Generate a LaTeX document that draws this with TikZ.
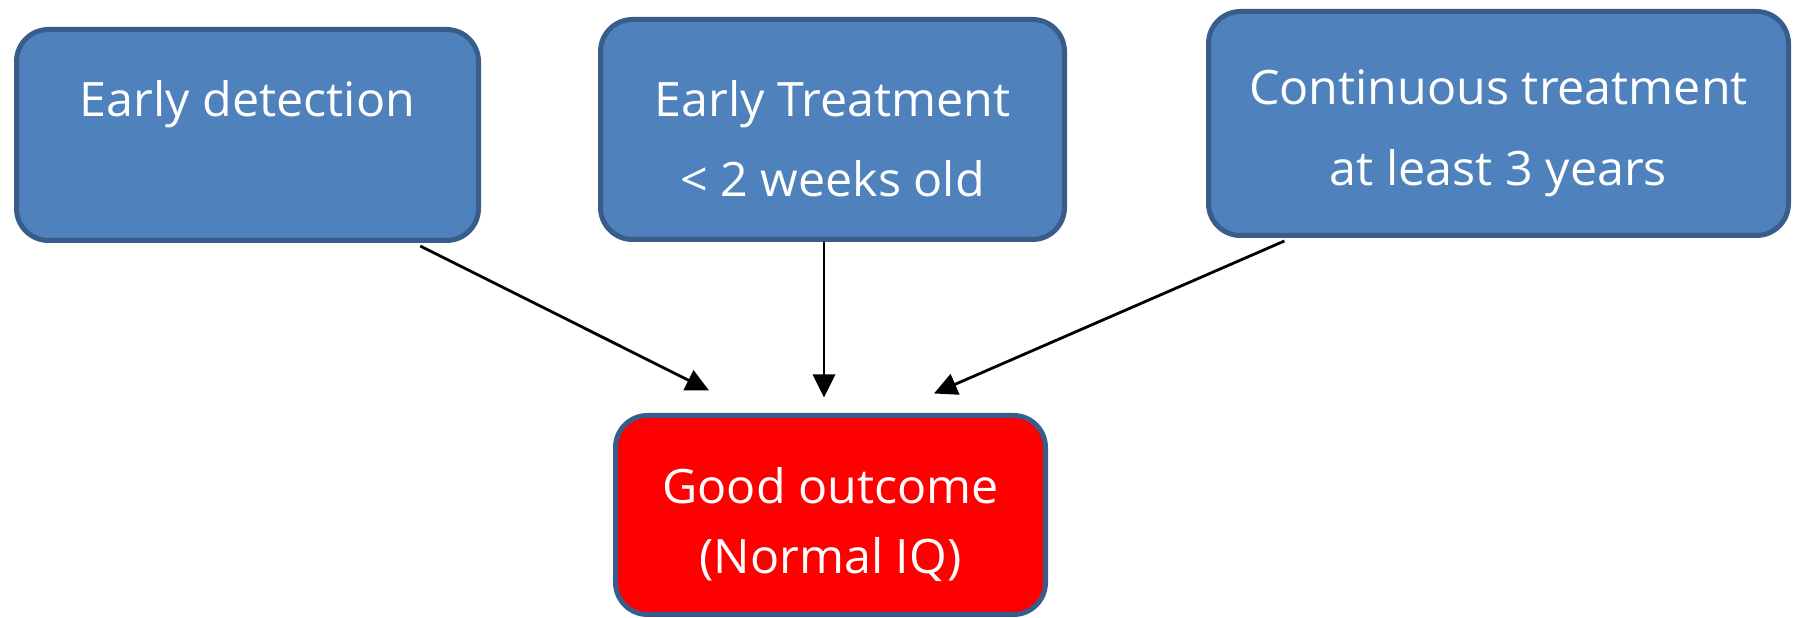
\documentclass[tikz,border=0pt]{standalone}
\usepackage{fontspec}
\setmainfont[FakeStretch=1.02]{Open Sans}
\usepackage{tikz}
\usetikzlibrary{arrows.meta,calc,positioning}

\definecolor{boxblue}{HTML}{4F81BD}
\definecolor{boxline}{HTML}{385D8A}
\definecolor{boxred}{HTML}{FF0000}

\newcommand\lift{\rule{0pt}{15.5pt}}

\tikzset{
  stage/.style={draw=boxline, line width=0.5mm, fill=boxblue, rounded corners=3.2mm,
    text=white, align=center, inner sep=0pt, font=\fontsize{13.5}{22.8}\selectfont},
  result/.style={stage, fill=boxred, font=\fontsize{13.5}{20}\selectfont},
  arr/.style={-{Triangle[length=2.3mm,width=2.2mm]}, line width=0.8pt, black}
}

\begin{document}
\begin{tikzpicture}[x=0.1mm, y=-0.1mm]
\useasboundingbox (0,0) rectangle (1793,618);

\node[stage, minimum width=46.2mm, minimum height=21.1mm] (detect) at (247.5,135) {\lift Early detection\\\phantom{Ey}};
\node[stage, minimum width=46.4mm, minimum height=22mm] (early) at (832.5,129.5) {\lift Early Treatment\\< 2 weeks old};
\node[stage, minimum width=58mm, minimum height=22.4mm] (cont) at (1498.5,123.5) {\lift Continuous treatment\\at least 3 years};
\node[result, minimum width=43mm, minimum height=19.9mm] (good) at (830.5,515) {\lift Good outcome\\(Normal IQ)};

\coordinate (tipL) at ($(good.north)+(-121.5,-22.5)$);
\coordinate (tipM) at ($(good.north)+(-6.5,-15.5)$);
\coordinate (tipR) at ($(good.north)+(103.5,-19.5)$);

\draw[arr] ($(detect.south west)!0.87!(detect.south east)+(0,3)$) -- (tipL);
\draw[arr] (early.south -| tipM) -- (tipM);
\draw[arr] ($(cont.south west)!0.134!(cont.south east)+(0,3)$) -- (tipR);

\end{tikzpicture}
\end{document}
